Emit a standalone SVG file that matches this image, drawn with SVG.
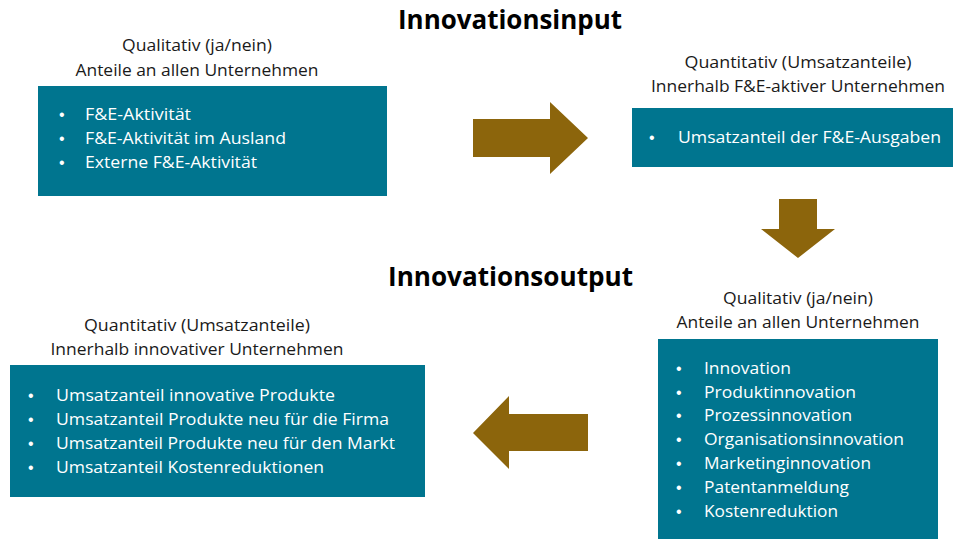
<svg xmlns="http://www.w3.org/2000/svg" width="953" height="539" viewBox="0 0 953 539">
  <style>
    text { font-variant-ligatures: none; }
    .title { font-family: "Open Sans", Lato, "Liberation Sans", sans-serif; font-weight: 700; font-size: 27px; fill: #000; }
    .cap { font-family: "Open Sans", Lato, "Liberation Sans", sans-serif; font-size: 17px; fill: #1a1a1a; text-anchor: middle; }
    .box { fill: #00758F; }
    .item { font-family: "Open Sans", Lato, "Liberation Sans", sans-serif; font-size: 17px; fill: #ffffff; }
    .bullet { font-family: "Liberation Sans", sans-serif; font-size: 16px; fill: #ffffff; }
    .arrow { fill: #8C650C; }
  </style>

  <!-- headings -->
  <text class="title" x="398" y="29" textLength="224" lengthAdjust="spacingAndGlyphs">Innovationsinput</text>
  <text class="title" x="388" y="286" textLength="245" lengthAdjust="spacingAndGlyphs">Innovationsoutput</text>

  <!-- input, qualitative -->
  <g id="input-qualitativ">
    <text class="cap" x="197" y="51" textLength="150" lengthAdjust="spacingAndGlyphs">Qualitativ (ja/nein)</text>
    <text class="cap" x="197" y="76" textLength="243" lengthAdjust="spacingAndGlyphs">Anteile an allen Unternehmen</text>
    <rect class="box" x="38" y="86" width="349" height="110"/>
    <text class="bullet" x="59" y="120">•</text>
    <text class="bullet" x="59" y="144">•</text>
    <text class="bullet" x="59" y="168">•</text>
    <text class="item" x="85" y="120" textLength="106" lengthAdjust="spacingAndGlyphs">F&amp;E-Aktivität</text>
    <text class="item" x="85" y="144" textLength="201" lengthAdjust="spacingAndGlyphs">F&amp;E-Aktivität im Ausland</text>
    <text class="item" x="85" y="168" textLength="172" lengthAdjust="spacingAndGlyphs">Externe F&amp;E-Aktivität</text>
  </g>

  <!-- input, quantitative -->
  <g id="input-quantitativ">
    <text class="cap" x="798" y="68" textLength="227" lengthAdjust="spacingAndGlyphs">Quantitativ (Umsatzanteile)</text>
    <text class="cap" x="798" y="92" textLength="294" lengthAdjust="spacingAndGlyphs">Innerhalb F&amp;E-aktiver Unternehmen</text>
    <rect class="box" x="632" y="108" width="321" height="59"/>
    <text class="bullet" x="649" y="143">•</text>
    <text class="item" x="678" y="143" textLength="263" lengthAdjust="spacingAndGlyphs">Umsatzanteil der F&amp;E-Ausgaben</text>
  </g>

  <!-- output, qualitative -->
  <g id="output-qualitativ">
    <text class="cap" x="798" y="304" textLength="150" lengthAdjust="spacingAndGlyphs">Qualitativ (ja/nein)</text>
    <text class="cap" x="798" y="328" textLength="243" lengthAdjust="spacingAndGlyphs">Anteile an allen Unternehmen</text>
    <rect class="box" x="658" y="339" width="280" height="200"/>
    <text class="bullet" x="676" y="374">•</text>
    <text class="bullet" x="676" y="398">•</text>
    <text class="bullet" x="676" y="421">•</text>
    <text class="bullet" x="676" y="445">•</text>
    <text class="bullet" x="676" y="469">•</text>
    <text class="bullet" x="676" y="493">•</text>
    <text class="bullet" x="676" y="517">•</text>
    <text class="item" x="704" y="374" textLength="87" lengthAdjust="spacingAndGlyphs">Innovation</text>
    <text class="item" x="704" y="398" textLength="152" lengthAdjust="spacingAndGlyphs">Produktinnovation</text>
    <text class="item" x="704" y="421" textLength="148" lengthAdjust="spacingAndGlyphs">Prozessinnovation</text>
    <text class="item" x="704" y="445" textLength="200" lengthAdjust="spacingAndGlyphs">Organisationsinnovation</text>
    <text class="item" x="704" y="469" textLength="167" lengthAdjust="spacingAndGlyphs">Marketinginnovation</text>
    <text class="item" x="704" y="493" textLength="145" lengthAdjust="spacingAndGlyphs">Patentanmeldung</text>
    <text class="item" x="704" y="517" textLength="134" lengthAdjust="spacingAndGlyphs">Kostenreduktion</text>
  </g>

  <!-- output, quantitative -->
  <g id="output-quantitativ">
    <text class="cap" x="197" y="331" textLength="226" lengthAdjust="spacingAndGlyphs">Quantitativ (Umsatzanteile)</text>
    <text class="cap" x="197" y="355" textLength="293" lengthAdjust="spacingAndGlyphs">Innerhalb innovativer Unternehmen</text>
    <rect class="box" x="10" y="365" width="415" height="132"/>
    <text class="bullet" x="28" y="401">•</text>
    <text class="bullet" x="28" y="425">•</text>
    <text class="bullet" x="28" y="449">•</text>
    <text class="bullet" x="28" y="473">•</text>
    <text class="item" x="56" y="401" textLength="279" lengthAdjust="spacingAndGlyphs">Umsatzanteil innovative Produkte</text>
    <text class="item" x="56" y="425" textLength="333" lengthAdjust="spacingAndGlyphs">Umsatzanteil Produkte neu für die Firma</text>
    <text class="item" x="56" y="449" textLength="339" lengthAdjust="spacingAndGlyphs">Umsatzanteil Produkte neu für den Markt</text>
    <text class="item" x="56" y="473" textLength="268" lengthAdjust="spacingAndGlyphs">Umsatzanteil Kostenreduktionen</text>
  </g>

  <!-- block arrows between the stages -->
  <g id="connectors">
    <polygon class="arrow" points="473,119 550,119 550,102 588,138 550,174 550,157 473,157"/>
    <polygon class="arrow" points="779,199 817,199 817,229 835,229 798,258 761,229 779,229"/>
    <polygon class="arrow" points="588,414 509,414 509,396 473,433 509,469 509,451 588,451"/>
  </g>
</svg>
